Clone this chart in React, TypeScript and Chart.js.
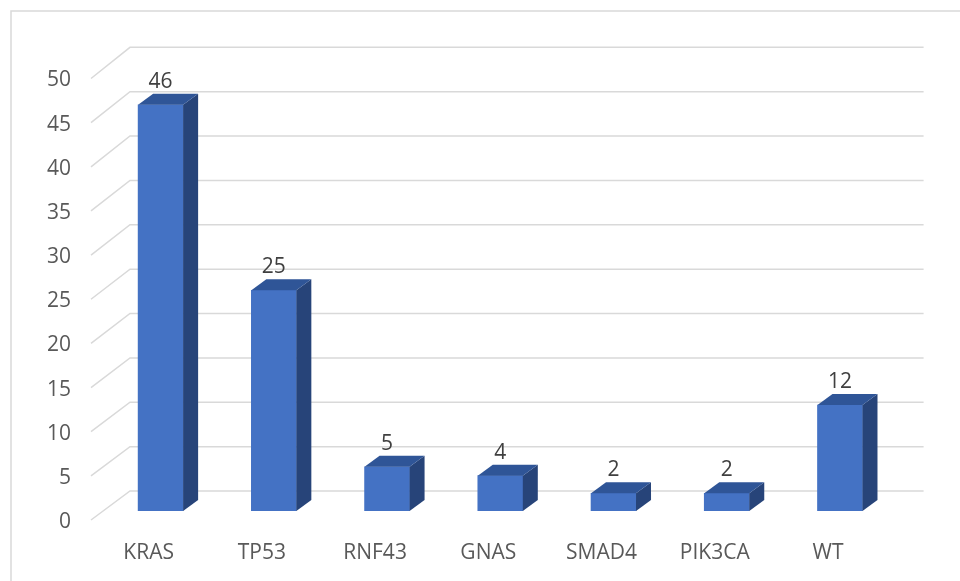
import React, { useEffect, useRef } from "react";
import { Chart, registerables } from "chart.js";

Chart.register(...registerables);

const categories = ["KRAS", "TP53", "RNF43", "GNAS", "SMAD4", "PIK3CA", "WT"];
const counts = [46, 25, 5, 4, 2, 2, 12];
const yMax = 50;
const yStep = 5;

const FRONT = "#4472C4";
const TOP = "#2F5597";
const SIDE = "#274479";
const GRID = "#d9d9d9";

// depth offsets of the pseudo-3D box relative to the bars' front plane
const DEPTH_DX = 15;
const DEPTH_DY = -11;
const BACK_DX = 26;
const BACK_DY = -20;
const FRONT_DX = -13;
const FRONT_DY = 9;

const frameAndGrid = {
  id: "frameAndGrid",
  beforeDatasetsDraw(chart: any) {
    const { ctx, chartArea, scales } = chart;
    const y = scales.y;
    const base = y.getPixelForValue(0);
    ctx.save();
    // outer frame
    ctx.strokeStyle = GRID;
    ctx.lineWidth = 1.5;
    ctx.beginPath();
    ctx.moveTo(11, chart.height + 2);
    ctx.lineTo(11, 11);
    ctx.lineTo(chart.width + 2, 11);
    ctx.stroke();
    // floor diagonals and back-wall gridlines
    ctx.lineWidth = 1.5;
    for (let v = 0; v <= yMax; v += yStep) {
      const yb = y.getPixelForValue(v);
      const yBack = base + (yb - base) * 1.005 + BACK_DY;
      const xBackL = chartArea.left + BACK_DX;
      const xBackR = chartArea.right + BACK_DX + 1;
      ctx.beginPath();
      ctx.moveTo(chartArea.left + FRONT_DX, yb + FRONT_DY);
      ctx.lineTo(xBackL, yBack);
      ctx.lineTo(xBackR, yBack);
      ctx.stroke();
    }
    ctx.restore();
  },
  afterDatasetsDraw(chart: any) {
    const { ctx } = chart;
    const meta = chart.getDatasetMeta(0);
    ctx.save();
    meta.data.forEach((bar: any, i: number) => {
      const half = bar.width / 2;
      const l = bar.x - half;
      const r = bar.x + half;
      const t = bar.y;
      const b = bar.base;
      // side face
      ctx.fillStyle = SIDE;
      ctx.beginPath();
      ctx.moveTo(r, t);
      ctx.lineTo(r + DEPTH_DX, t + DEPTH_DY);
      ctx.lineTo(r + DEPTH_DX, b + DEPTH_DY);
      ctx.lineTo(r, b);
      ctx.closePath();
      ctx.fill();
      // top face
      ctx.fillStyle = TOP;
      ctx.beginPath();
      ctx.moveTo(l, t);
      ctx.lineTo(l + DEPTH_DX, t + DEPTH_DY);
      ctx.lineTo(r + DEPTH_DX, t + DEPTH_DY);
      ctx.lineTo(r, t);
      ctx.closePath();
      ctx.fill();
      // value label
      ctx.fillStyle = "#404040";
      ctx.font = "21px 'Open Sans'";
      ctx.textAlign = "center";
      ctx.textBaseline = "middle";
      ctx.fillText(String(counts[i]), bar.x, t - 23);
    });
    ctx.restore();
  },
};

export default function App() {
  const ref = useRef<HTMLCanvasElement>(null);

  useEffect(() => {
    if (!ref.current) return;
    const chart = new Chart(ref.current, {
      type: "bar",
      data: {
        labels: categories,
        datasets: [
          {
            data: counts,
            backgroundColor: FRONT,
            borderWidth: 0,
            barThickness: 45,
          },
        ],
      },
      options: {
        responsive: false,
        animation: false,
        layout: { padding: { top: 69.5, right: 63.4, bottom: 0, left: 0 } },
        plugins: {
          legend: { display: false },
          tooltip: { enabled: false },
        },
        scales: {
          x: {
            offset: true,
            grid: { display: false, drawTicks: false },
            border: { display: false },
            ticks: {
              color: "#595959",
              font: { family: "'Open Sans'", size: 21 },
              labelOffset: -12,
              padding: 29,
              maxRotation: 0,
            },
            afterFit: (s: any) => {
              s.height = 70;
            },
          },
          y: {
            min: 0,
            max: yMax,
            grid: { display: false, drawTicks: false },
            border: { display: false },
            ticks: {
              stepSize: yStep,
              color: "#595959",
              font: { family: "'Open Sans'", size: 21 },
              labelOffset: 11,
              padding: 33,
            },
            afterFit: (s: any) => {
              s.width = 104;
            },
          },
        },
      },
      plugins: [frameAndGrid],
    });
    return () => chart.destroy();
  }, []);

  return (
    <div style={{ position: "fixed", left: 0, top: 0, width: 960, height: 581, background: "#fff" }}>
      <canvas ref={ref} width={960} height={581} />
    </div>
  );
}
